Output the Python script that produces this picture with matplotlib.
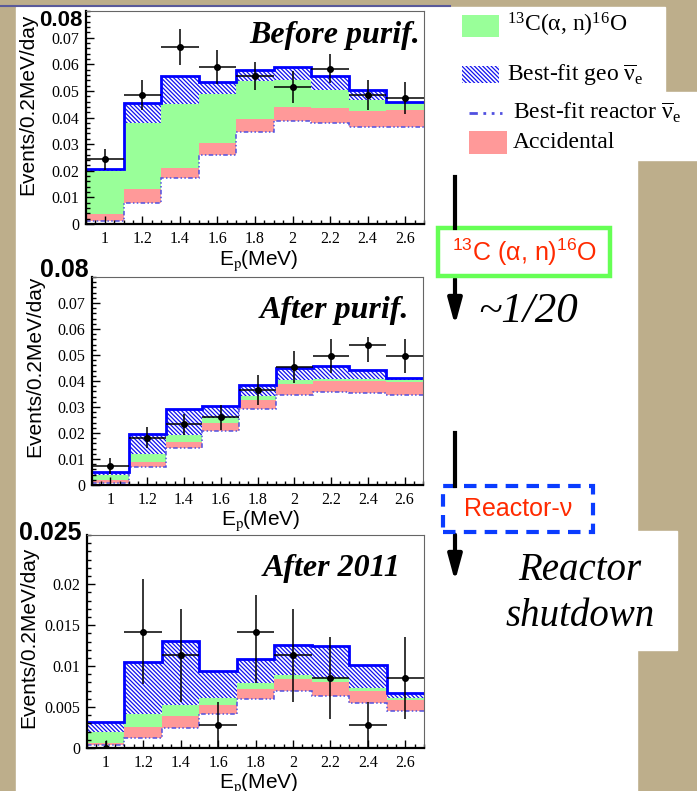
import matplotlib
matplotlib.use("Agg")
import matplotlib.pyplot as plt
import numpy as np
from matplotlib.patches import Rectangle, FancyArrowPatch
from matplotlib.lines import Line2D
from matplotlib.ticker import MultipleLocator

plt.rcParams['font.family'] = 'Liberation Serif'
plt.rcParams['mathtext.fontset'] = 'stix'
plt.rcParams['mathtext.default'] = 'regular'
plt.rcParams['hatch.linewidth'] = 0.9

# prompt energy bins (MeV)
centres = [1.0, 1.2, 1.4, 1.6, 1.8, 2.0, 2.2, 2.4, 2.6]
edges = [0.9, 1.1, 1.3, 1.5, 1.7, 1.9, 2.1, 2.3, 2.5, 2.7]

# stacked levels (events/0.2MeV/day): reactor, +accidental, +13C(a,n), +geo (total)
before_reactor = [0.00125, 0.0078, 0.0171, 0.0261, 0.0346, 0.0388, 0.0378, 0.0365, 0.0363]
before_acc = [0.00375, 0.0130, 0.0211, 0.0303, 0.0394, 0.0440, 0.0436, 0.0424, 0.0428]
before_c13 = [0.0200, 0.0380, 0.0450, 0.0489, 0.0536, 0.0540, 0.0503, 0.0465, 0.0453]
before_total = [0.0206, 0.0453, 0.0555, 0.0534, 0.0579, 0.0590, 0.0555, 0.0503, 0.0459]
before_data = [0.0243, 0.0484, 0.0665, 0.0590, 0.0555, 0.0515, 0.0584, 0.0484, 0.0475]
before_elo = [0.0040, 0.0055, 0.0066, 0.0063, 0.0053, 0.0060, 0.0053, 0.0057, 0.0060]
before_ehi = [0.0040, 0.0055, 0.0066, 0.0063, 0.0053, 0.0060, 0.0053, 0.0057, 0.0060]

after_reactor = [0.0009, 0.0069, 0.0143, 0.0207, 0.0294, 0.0348, 0.0356, 0.0353, 0.0348]
after_acc = [0.0019, 0.0090, 0.0166, 0.0237, 0.0326, 0.0390, 0.0399, 0.0399, 0.0397]
after_c13 = [0.0038, 0.0119, 0.0192, 0.0259, 0.0343, 0.0403, 0.0407, 0.0406, 0.0403]
after_total = [0.0051, 0.0195, 0.0292, 0.0303, 0.0384, 0.0450, 0.0458, 0.0442, 0.0412]
after_data = [0.0074, 0.0182, 0.0233, 0.0260, 0.0366, 0.0454, 0.0497, 0.0540, 0.0497]
after_elo = [0.0030, 0.0040, 0.0042, 0.0048, 0.0059, 0.0063, 0.0067, 0.0067, 0.0067]
after_ehi = [0.0030, 0.0040, 0.0042, 0.0047, 0.0056, 0.0060, 0.0064, 0.0030, 0.0064]

y2011_reactor = [0.00037, 0.0012, 0.0024, 0.0042, 0.0060, 0.0069, 0.0063, 0.0055, 0.0045]
y2011_acc = [0.00065, 0.0026, 0.0039, 0.0052, 0.0072, 0.0084, 0.0081, 0.0069, 0.0059]
y2011_c13 = [0.0020, 0.0042, 0.0052, 0.0061, 0.0079, 0.0089, 0.0085, 0.0073, 0.0061]
y2011_total = [0.0032, 0.0105, 0.0131, 0.0094, 0.0109, 0.0126, 0.0124, 0.0101, 0.0067]
y2011_data = [0.0, 0.0142, 0.0113, 0.0028, 0.0142, 0.0113, 0.0085, 0.0028, 0.0085]
y2011_elo = [0.0, 0.0064, 0.0057, 0.0028, 0.0063, 0.0057, 0.0050, 0.0028, 0.0050]
y2011_ehi = [0.00085, 0.0064, 0.0057, 0.0028, 0.0045, 0.0057, 0.0050, 0.0028, 0.0050]

GREEN = '#99ff99'
PINK = '#ff9999'
BLUE = '#0000ff'
HATCH = '#1010ee'
HATCH_PAT = '\\' * 8
REACT = '#5050e0'
BEIGE = '#bdae8b'
W, H = 697, 791


def box(x0, y0, x1, y1):
    # pixel box -> figure fraction rect
    return [x0 / W, 1 - y1 / H, (x1 - x0) / W, (y1 - y0) / H]


def fpt(x, y):
    return (x / W, 1 - y / H)


fig = plt.figure(figsize=(W / 100, H / 100), dpi=100, facecolor=BEIGE)

# white slide areas
for x0, y0, x1, y1 in [(16, 7, 637, 791), (637, 7, 665, 92), (637, 92, 697, 160),
                       (637, 531, 677, 650)]:
    fig.add_artist(Rectangle(fpt(x0, y1), (x1 - x0) / W, (y1 - y0) / H,
                             transform=fig.transFigure, color='white', zorder=0))
fig.add_artist(Line2D([0, 450 / W], [1 - 5.5 / H] * 2, transform=fig.transFigure,
                      color='#5a5a9a', lw=1.5))


def panel(rect, reactor, acc, c13, total, data, elo, ehi, ymax, ymaj, ymin,
          title, title_pos, top_label, top_pos, top_size, ylab_y, xlab_y):
    ax = fig.add_axes(rect)
    ax.stairs(acc, edges, baseline=reactor, fill=True, facecolor=PINK, linewidth=0)
    ax.stairs(c13, edges, baseline=acc, fill=True, facecolor=GREEN, linewidth=0)
    ax.stairs(total, edges, baseline=c13, fill=True, facecolor='white',
              edgecolor=HATCH, hatch=HATCH_PAT, linewidth=0)
    ax.stairs(reactor, edges, baseline=None, color=REACT, lw=1.1,
              ls=(0, (3, 1.5, 1, 1.5, 1, 1.5)))
    ax.stairs(total, edges, baseline=None, color=BLUE, lw=2.0)
    ax.errorbar(centres, data, yerr=[elo, ehi], xerr=0.1, fmt='o', ms=4,
                color='k', lw=1.1, capsize=0, zorder=5)
    ax.set_xlim(0.9, 2.7)
    ax.set_ylim(0, ymax)
    ax.set_xticks(centres)
    ax.set_xticklabels(['%g' % c for c in centres])
    yt = np.arange(0, ymax - 1e-9, ymaj)
    yt = yt[yt < ymax - ymaj * 0.5]
    ax.set_yticks(yt)
    ax.set_yticklabels(['0' if v == 0 else '%g' % round(v, 4) for v in yt])
    ax.xaxis.set_minor_locator(MultipleLocator(0.05))
    ax.yaxis.set_minor_locator(MultipleLocator(ymin))
    ax.tick_params(which='both', direction='in', top=False, right=False,
                   labelsize=11.5, width=1)
    ax.tick_params(which='major', length=6, pad=5)
    ax.tick_params(which='minor', length=3)
    for s in ['left', 'bottom']:
        ax.spines[s].set_linewidth(1.6)
    for s in ['top', 'right']:
        ax.spines[s].set_color('#666666')
        ax.spines[s].set_linewidth(0.8)
    ax.set_xlabel(r'E$_{\rm p}$(MeV)', family='Liberation Sans', fontsize=15, va='center')
    ax.xaxis.set_label_coords(0.51, xlab_y)
    ax.set_ylabel('Events/0.2MeV/day', family='Liberation Sans', fontsize=15, va='center')
    ax.yaxis.set_label_coords(-0.172, ylab_y)
    ax.text(title_pos[0], title_pos[1], title, transform=ax.transAxes, ha='right',
            va='center', fontsize=23, fontweight='bold', fontstyle='italic')
    fig.text(top_pos[0] / W, 1 - top_pos[1] / H, top_label, family='Liberation Sans',
             fontweight='bold', fontsize=top_size, ha='right', va='center',
             bbox=dict(facecolor='white', edgecolor='none', pad=0.5))
    return ax


panel(box(86, 11, 424, 224), before_reactor, before_acc, before_c13, before_total,
      before_data, before_elo, before_ehi, 0.08, 0.01, 0.002,
      'Before purif.', (0.988, 0.887), '0.08', (83, 21), 16, 0.563, -0.17)
panel(box(92, 277, 423, 485), after_reactor, after_acc, after_c13, after_total,
      after_data, after_elo, after_ehi, 0.08, 0.01, 0.002,
      'After purif.', (0.958, 0.837), '0.08', (89, 270), 18, 0.572, -0.17)
panel(box(87, 535, 424, 748), y2011_reactor, y2011_acc, y2011_c13, y2011_total,
      y2011_data, y2011_elo, y2011_ehi, 0.026, 0.005, 0.001,
      'After 2011', (0.929, 0.845), '0.025', (81, 533), 18, 0.52, -0.166)

# legend
fig.add_artist(Rectangle(fpt(462, 37), 37 / W, 22 / H, transform=fig.transFigure,
                         facecolor=GREEN, edgecolor='none'))
fig.text(507 / W, 1 - 25 / H, r'$^{13}$C($\alpha$, n)$^{16}$O', fontsize=17, va='center')
fig.add_artist(Rectangle(fpt(462, 83), 37 / W, 17 / H, transform=fig.transFigure,
                         facecolor='white', edgecolor=HATCH, hatch=HATCH_PAT, linewidth=0))
fig.text(507 / W, 1 - 75 / H, r'Best-fit geo $\overline{\nu}_{e}$', fontsize=17, va='center')
fig.add_artist(Line2D([469 / W, 502 / W], [1 - 113 / H] * 2, transform=fig.transFigure,
                      color=REACT, lw=2, ls=(0, (3, 2, 1, 2, 1, 2))))
fig.text(513 / W, 1 - 113 / H, r'Best-fit reactor $\overline{\nu}_{e}$', fontsize=17, va='center')
fig.add_artist(Rectangle(fpt(469, 154), 38 / W, 23 / H, transform=fig.transFigure,
                         facecolor=PINK, edgecolor='none'))
fig.text(513 / W, 1 - 143 / H, 'Accidental', fontsize=17, va='center')

# arrows and boxes on the right
fig.add_artist(Line2D([455 / W] * 2, [1 - 177 / H, 1 - 228 / H], transform=fig.transFigure,
                      color='k', lw=3))
fig.add_artist(FancyArrowPatch(fpt(455, 276), fpt(455, 328), transform=fig.transFigure,
                               arrowstyle='-|>,head_width=0.3,head_length=1.1',
                               mutation_scale=14, color='k', lw=3))
fig.add_artist(Rectangle(fpt(438, 276), 172 / W, 48 / H, transform=fig.transFigure,
                         facecolor='white', edgecolor='#66ff55', lw=3.2))
fig.text(524 / W, 1 - 252 / H, '$^{13}$C (α, n)$^{16}$O', family='Liberation Sans',
         color='#ff2a00', fontsize=18, ha='center', va='center')
fig.text(478 / W, 1 - 312 / H, '~1/20', fontsize=31, fontstyle='italic', va='center')

fig.add_artist(Line2D([455 / W] * 2, [1 - 433 / H, 1 - 486 / H], transform=fig.transFigure,
                      color='k', lw=3))
fig.add_artist(FancyArrowPatch(fpt(455, 532), fpt(455, 584), transform=fig.transFigure,
                               arrowstyle='-|>,head_width=0.3,head_length=1.1',
                               mutation_scale=14, color='k', lw=3))
fig.add_artist(Rectangle(fpt(443, 532), 150 / W, 46 / H, transform=fig.transFigure,
                         facecolor='white', edgecolor='#0a3cff', lw=3, ls=(0, (3, 2))))
fig.text(518 / W, 1 - 509 / H, 'Reactor-ν', family='Liberation Sans',
         color='#ff2a00', fontsize=18, ha='center', va='center')
fig.text(580 / W, 1 - 570 / H, 'Reactor', fontsize=28, fontstyle='italic',
         ha='center', va='center')
fig.text(580 / W, 1 - 617 / H, 'shutdown', fontsize=28, fontstyle='italic',
         ha='center', va='center')

fig.savefig('out.png', dpi=100, facecolor=BEIGE)
